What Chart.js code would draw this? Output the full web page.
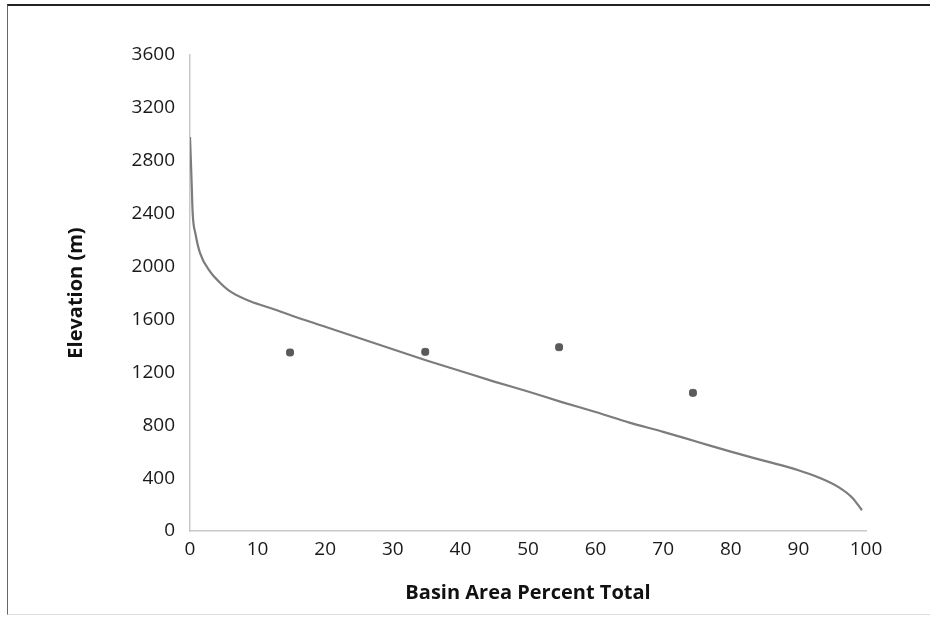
<!DOCTYPE html>
<html>
<head>
<meta charset="utf-8">
<script src="https://cdn.jsdelivr.net/npm/chart.js"></script>
<style>
  html, body { margin: 0; padding: 0; background: #fff; }
  #frame {
    position: absolute; left: 7px; top: 4px; width: 923px; height: 608px;
    border-top: 2px solid #222; border-left: 1px solid #666; border-bottom: 1px solid #ddd;
  }
  #wrap { position: absolute; left: 0; top: 0; width: 930px; height: 618px; }
</style>
</head>
<body>
<div id="frame"></div>
<div id="wrap"><canvas id="hypsoChart" width="930" height="618"></canvas></div>
<script>
// hypsometric curve
const areaPct = [0, 0.2, 0.4, 0.8, 1.5, 3, 4.4, 6, 9, 12, 15, 20, 25, 30, 35, 40, 45, 50, 55, 60, 65, 70, 75, 80, 85, 90, 93, 96, 98, 99.4];
const elevation = [2980, 2700, 2400, 2250, 2100, 1960, 1880, 1810, 1735, 1685, 1630, 1545, 1460, 1375, 1290, 1210, 1130, 1055, 975, 900, 820, 750, 675, 600, 530, 460, 405, 330, 250, 157];

// sample points
const sampleX = [14.8, 34.8, 54.6, 74.4];
const sampleY = [1350, 1355, 1390, 1045];

const xTicks = [0, 10, 20, 30, 40, 50, 60, 70, 80, 90, 100];
const yTicks = [0, 400, 800, 1200, 1600, 2000, 2400, 2800, 3200, 3600];

const fontFamily = '"Open Sans", "Noto Sans", sans-serif';

const ctx = document.getElementById('hypsoChart').getContext('2d');
const myChart = new Chart(ctx, {
    type: 'scatter',
    data: {
        datasets: [{
            type: 'line',
            label: 'Curve',
            data: areaPct.map((x, i) => ({ x: x, y: elevation[i] })),
            borderColor: '#7c7c7c',
            borderWidth: 2.2,
            pointRadius: 0,
            cubicInterpolationMode: 'monotone',
            fill: false
        }, {
            label: 'Samples',
            data: sampleX.map((x, i) => ({ x: x, y: sampleY[i] })),
            pointStyle: 'rectRounded',
            pointRadius: 4,
            backgroundColor: '#5a5a5a',
            borderColor: '#5a5a5a'
        }]
    },
    options: {
        responsive: false,
        animation: false,
        layout: { padding: { left: 64, top: 55, right: 64, bottom: 13 } },
        plugins: { legend: { display: false }, tooltip: { enabled: false } },
        scales: {
            x: {
                type: 'linear',
                min: 0, max: 100,
                afterBuildTicks: s => { s.ticks = xTicks.map(v => ({ value: v })); },
                grid: { display: false, drawTicks: false },
                border: { color: '#c8c8c8', width: 1.5 },
                ticks: { color: '#1a1a1a', padding: 7, font: { family: fontFamily, size: 19 },
                         callback: v => String(v) },
                title: { display: true, text: 'Basin Area Percent Total', color: '#111', padding: { top: 8, bottom: 0 },
                         font: { family: fontFamily, size: 20, weight: 'bold' } },
                afterFit: s => { s.height = 618 - 531 - 13; }
            },
            y: {
                min: 0, max: 3600,
                afterBuildTicks: s => { s.ticks = yTicks.map(v => ({ value: v })); },
                grid: { display: false, drawTicks: false },
                border: { color: '#c8c8c8', width: 1.5 },
                ticks: { color: '#1a1a1a', padding: 15, font: { family: fontFamily, size: 19 },
                         callback: v => String(v) },
                title: { display: true, text: 'Elevation (m)', color: '#111', padding: 0,
                         font: { family: fontFamily, size: 20, weight: 'bold' } },
                afterFit: s => { s.width = 190 - 64; }
            }
        }
    }
});
</script>
</body>
</html>
